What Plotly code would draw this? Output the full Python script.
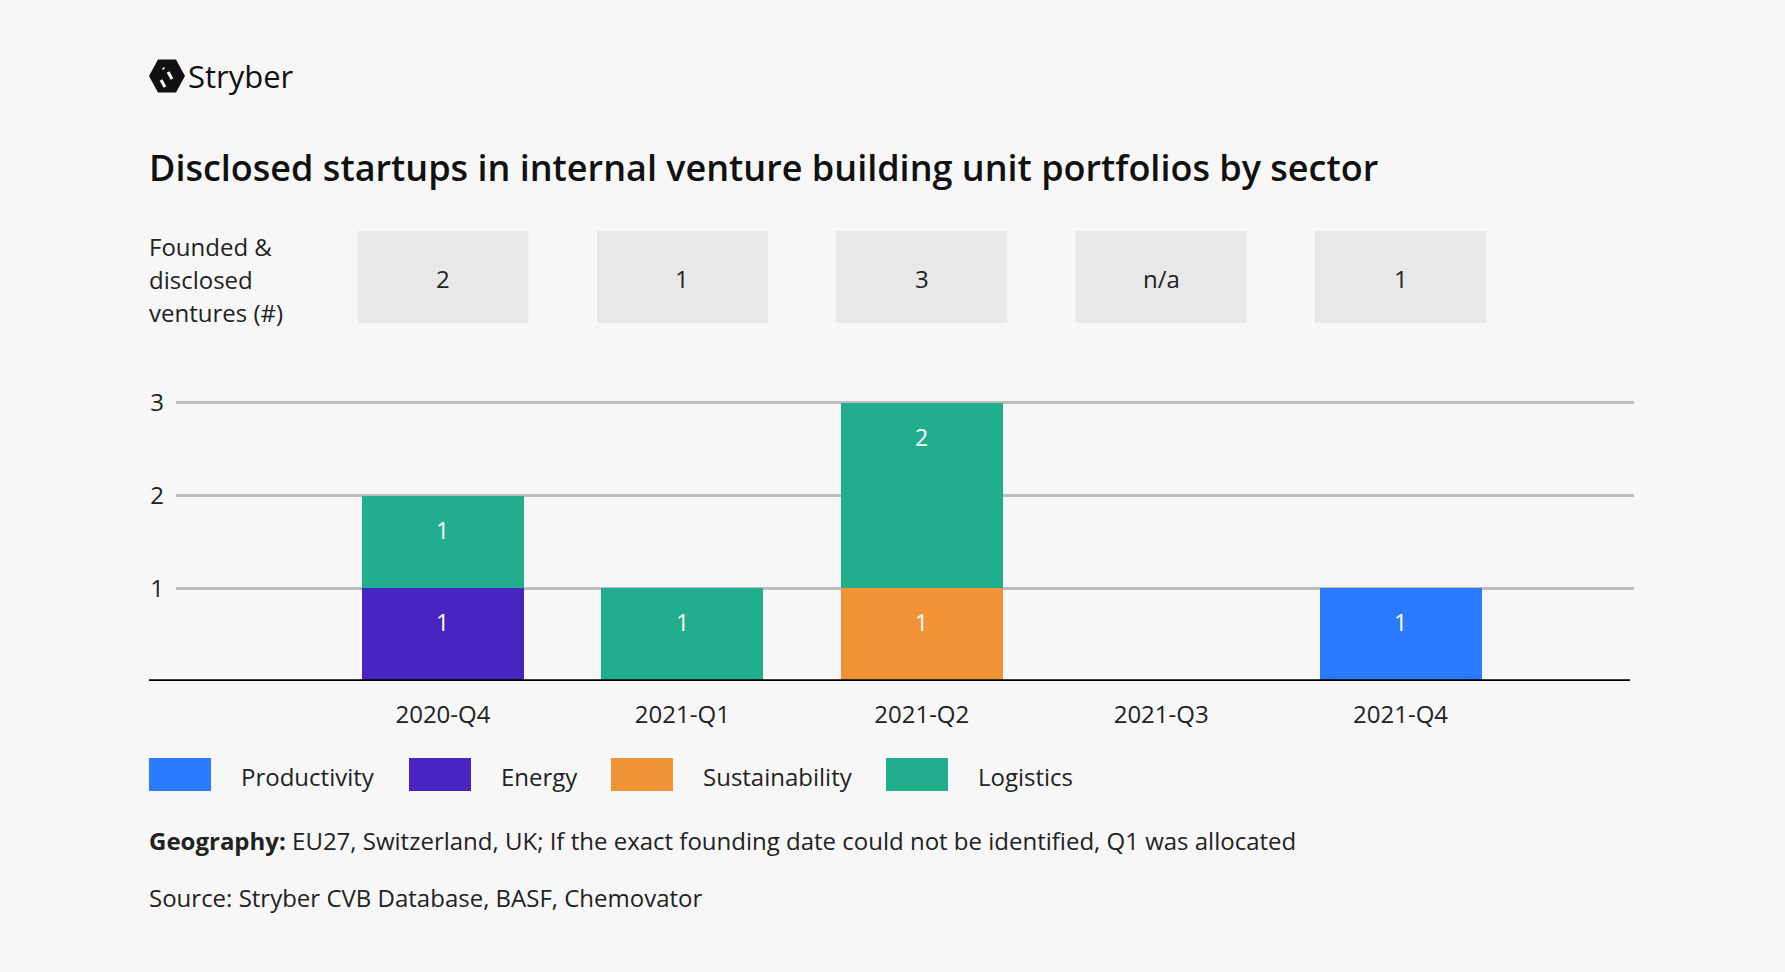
import plotly.graph_objects as go

quarters = ["2020-Q4", "2021-Q1", "2021-Q2", "2021-Q3", "2021-Q4"]
productivity = [None, None, None, None, 1]
energy = [1, None, None, None, None]
sustainability = [None, None, 1, None, None]
logistics = [1, 1, 2, None, None]
founded = ["2", "1", "3", "n/a", "1"]
row_label = ["Founded &", "disclosed", "ventures (#)"]

series = [
    ("Productivity", productivity, "#2a7bff"),
    ("Energy", energy, "#4625c0"),
    ("Sustainability", sustainability, "#f09336"),
    ("Logistics", logistics, "#21ae8d"),
]

W, H = 1785, 972
L, R, T, B = 176, 1634, 401, 681
FONT = "Open Sans"


def fx(px):
    return (px - L) / (R - L)


def fy(py):
    return (B - py) / (B - T)


fig = go.Figure()
annotations = []
stack = [0] * len(quarters)
for name, vals, color in series:
    fig.add_bar(x=quarters, y=vals, name=name, marker_color=color, marker_line_width=0, showlegend=False)
    # value labels sit near the top of each segment
    for i, v in enumerate(vals):
        if v:
            stack[i] += v
            annotations.append(dict(x=quarters[i], y=stack[i], xref="x", yref="y", yshift=-34,
                                    yanchor="middle", showarrow=False, text=str(v),
                                    font=dict(size=23, color="white", family=FONT)))

shapes = []

# baseline
shapes.append(dict(type="line", xref="paper", yref="y", x0=fx(149), x1=fx(1630), y0=0, y1=0,
                   line=dict(color="black", width=3.5), layer="above"))

# header row boxes
for i, q in enumerate(quarters):
    shapes.append(dict(type="rect", xref="x", yref="paper", x0=i - 0.357, x1=i + 0.357,
                       y0=fy(323), y1=fy(231), fillcolor="#e8e8e8", line_width=0, layer="below"))
    annotations.append(dict(x=q, y=fy(278), xref="x", yref="paper", yanchor="middle", text=founded[i],
                            showarrow=False, font=dict(size=24, color="#222", family=FONT)))

for k, line in enumerate(row_label):
    annotations.append(dict(x=fx(147), y=fy(246 + 33 * k), xref="paper", yref="paper", xanchor="left",
                            yanchor="middle", showarrow=False, text=line,
                            font=dict(size=24, color="#222", family=FONT)))

# title
annotations.append(dict(x=fx(147), y=fy(167), xref="paper", yref="paper", xanchor="left", yanchor="middle",
                        showarrow=False,
                        text="Disclosed startups in internal venture building unit portfolios by sector",
                        font=dict(size=36, color="#111", family=FONT, weight=600)))

# logo
hx, hy, hr = 167, 76, 18
pts = [(hx - hr, hy), (hx - hr / 2, hy - hr * 0.92), (hx + hr / 2, hy - hr * 0.92),
       (hx + hr, hy), (hx + hr / 2, hy + hr * 0.92), (hx - hr / 2, hy + hr * 0.92)]
path = "M " + " L ".join(f"{fx(a):.5f},{fy(b):.5f}" for a, b in pts) + " Z"
shapes.append(dict(type="path", xref="paper", yref="paper", path=path, fillcolor="#111", line_width=0))
for (a0, b0, a1, b1) in [(161, 80, 165, 87), (168, 72, 172, 79), (163, 68, 164, 69)]:
    shapes.append(dict(type="line", xref="paper", yref="paper", x0=fx(a0), y0=fy(b0), x1=fx(a1), y1=fy(b1),
                       line=dict(color="white", width=3)))
annotations.append(dict(x=fx(186), y=fy(76), xref="paper", yref="paper", xanchor="left", yanchor="middle",
                        showarrow=False, text="Stryber",
                        font=dict(size=31, color="#111", family=FONT, weight=500)))

# legend
legend_x = [149, 409, 611, 886]
for (name, vals, color), lx in zip(series, legend_x):
    shapes.append(dict(type="rect", xref="paper", yref="paper", x0=fx(lx), x1=fx(lx + 62),
                       y0=fy(791), y1=fy(758), fillcolor=color, line_width=0))
    annotations.append(dict(x=fx(lx + 90), y=fy(776), xref="paper", yref="paper", xanchor="left",
                            yanchor="middle", showarrow=False, text=name,
                            font=dict(size=24, color="#222", family=FONT)))

# footer
annotations.append(dict(x=fx(147), y=fy(840), xref="paper", yref="paper", xanchor="left", yanchor="middle",
                        showarrow=False,
                        text="<b>Geography:</b> EU27, Switzerland, UK; If the exact founding date could not be identified, Q1 was allocated",
                        font=dict(size=24, color="#222", family=FONT)))
annotations.append(dict(x=fx(147), y=fy(897), xref="paper", yref="paper", xanchor="left", yanchor="middle",
                        showarrow=False, text="Source: Stryber CVB Database, BASF, Chemovator",
                        font=dict(size=24, color="#222", family=FONT)))

fig.update_layout(
    width=W, height=H,
    margin=dict(l=L, r=W - R, t=T, b=H - B),
    paper_bgcolor="#f7f7f7", plot_bgcolor="#f7f7f7",
    barmode="stack", bargap=0.323,
    font=dict(family=FONT, color="#222"),
    shapes=shapes, annotations=annotations,
    xaxis=dict(type="category", range=[-1.115, 4.975], showgrid=False, showline=False, zeroline=False,
               ticks="", tickfont=dict(size=24, color="#222"), ticklabelstandoff=17),
    yaxis=dict(range=[0, 3.02], tickvals=[1, 2, 3], showgrid=True, gridcolor="#bdbdbd", gridwidth=2.5,
               zeroline=False, showline=False, ticks="", tickfont=dict(size=24, color="#222"),
               ticklabelstandoff=11),
)

fig.write_html("out.html", config={"displayModeBar": False},
               post_script="document.body.style.margin='0';")
